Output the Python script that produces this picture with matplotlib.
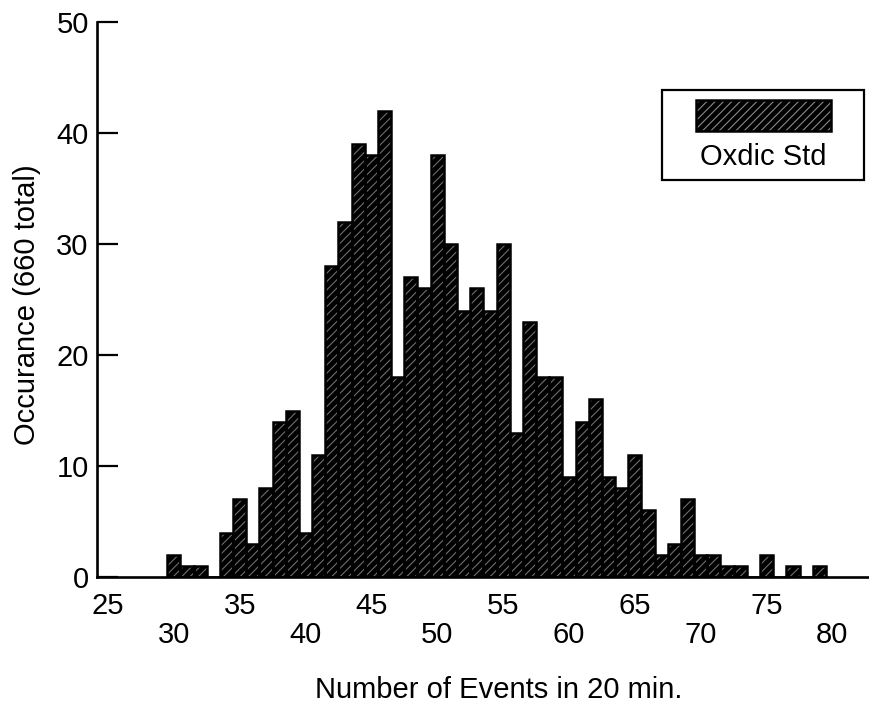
import matplotlib
matplotlib.use("Agg")
import matplotlib.pyplot as plt
from matplotlib.patches import Rectangle

# ---- data ----
events = list(range(30, 80))
counts = [2, 1, 1, 0, 4, 7, 3, 8, 14, 15,
          4, 11, 28, 32, 39, 38, 42, 18, 27, 26,
          38, 30, 24, 26, 24, 30, 13, 23, 18, 18,
          9, 14, 16, 9, 8, 11, 6, 2, 3, 7,
          2, 2, 1, 1, 0, 2, 0, 1, 0, 1]
upper_ticks = [25, 35, 45, 55, 65, 75]
lower_ticks = [30, 40, 50, 60, 70, 80]
y_ticks = [0, 10, 20, 30, 40, 50]
legend_label = "Oxdic Std"
x_label = "Number of Events in 20 min."
y_label = "Occurance (660 total)"

plt.rcParams['font.family'] = ['Liberation Sans', 'DejaVu Sans']
plt.rcParams['hatch.linewidth'] = 0.8

fig = plt.figure(figsize=(8.7, 7.04), dpi=100)
ax = fig.add_axes([97/870, 1 - 577/704, (868 - 97)/870, (577 - 22)/704])

ax.bar(events, counts, width=1.0, color='black', edgecolor='#6e6e6e',
       hatch='////', linewidth=0, zorder=2)
ax.bar(events, counts, width=1.0, fill=False, edgecolor='black',
       linewidth=1.8, zorder=3)

ax.set_xlim(24.17, 82.7)
ax.set_ylim(0, 50)

for s in ['top', 'right']:
    ax.spines[s].set_visible(False)
ax.spines['left'].set_linewidth(1.9)
ax.spines['bottom'].set_linewidth(1.9)

ax.set_yticks(y_ticks)
ax.set_yticklabels([str(v) for v in y_ticks])
ax.tick_params(axis='y', direction='in', length=15, width=1.6, pad=6,
               labelsize=21)

ax.set_xticks(lower_ticks)
ax.set_xticklabels([str(v) for v in lower_ticks])
ax.set_xticks(upper_ticks, minor=True)
ax.set_xticklabels([str(v) for v in upper_ticks], minor=True)
ax.tick_params(axis='x', which='major', length=0, pad=32, labelsize=21)
ax.tick_params(axis='x', which='minor', length=0, pad=11, labelsize=21)

fig.text(499/870, 1 - 690/704, x_label, ha='center', va='center', fontsize=21)
fig.text(27/870, 1 - 305/704, y_label, ha='center', va='center',
         rotation=90, fontsize=21)

# legend box (patch above label)
fig.patches.append(Rectangle((662/870, 1 - 180/704), (864 - 662)/870, 90/704,
                             transform=fig.transFigure, facecolor='white',
                             edgecolor='black', linewidth=1.6, zorder=5))
fig.patches.append(Rectangle((696/870, 1 - 131/704), (831 - 696)/870, 31/704,
                             transform=fig.transFigure, facecolor='black',
                             edgecolor='#8a8a8a', hatch='////', linewidth=0,
                             zorder=6))
fig.patches.append(Rectangle((696/870, 1 - 131/704), (831 - 696)/870, 31/704,
                             transform=fig.transFigure, fill=False,
                             edgecolor='black', linewidth=1.8, zorder=7))
fig.text(763/870, 1 - 157/704, legend_label, ha='center', va='center',
         fontsize=21, zorder=8)

fig.savefig("out.png", dpi=100)
